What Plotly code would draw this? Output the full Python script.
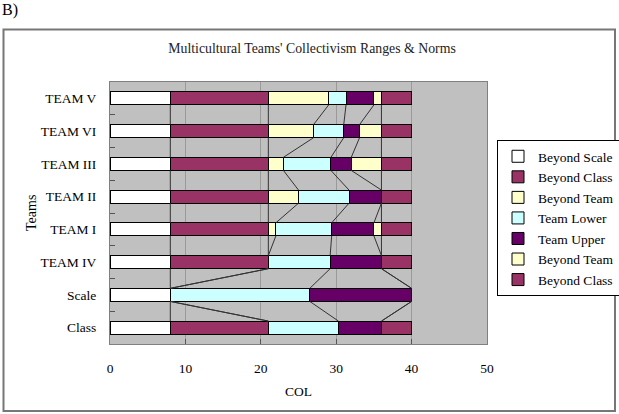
import plotly.graph_objects as go

# ---------------- data ----------------
categories = ["Class", "Scale", "TEAM IV", "TEAM I", "TEAM II", "TEAM III", "TEAM VI", "TEAM V"]
series_names = ["Beyond Scale", "Beyond Class", "Beyond Team", "Team Lower",
                "Team Upper", "Beyond Team", "Beyond Class"]
beyond_scale  = [8, 8, 8, 8, 8, 8, 8, 8]
beyond_class1 = [13, 0, 13, 13, 13, 13, 13, 13]
beyond_team1  = [0, 0, 0, 1, 4, 2, 6, 8]
team_lower    = [9.3, 18.5, 8.2, 7.4, 6.7, 6.3, 4, 2.3]
team_upper    = [5.7, 13.5, 6.8, 5.6, 4.3, 2.7, 2.1, 3.7]
beyond_team2  = [0, 0, 0, 1, 0, 4, 2.9, 1]
beyond_class2 = [4, 0, 4, 4, 4, 4, 4, 4]
x_ticks = [0, 10, 20, 30, 40, 50]

series_values = [beyond_scale, beyond_class1, beyond_team1, team_lower,
                 team_upper, beyond_team2, beyond_class2]
colors = ["#FFFFFF", "#993366", "#FFFFCC", "#CCFFFF", "#660066", "#FFFFCC", "#993366"]

FONT = "Liberation Serif"
W, H = 619, 414
L, R, T, B = 110, 619 - 487, 82, 414 - 344
PW, PH = W - L - R, H - T - B


def xp(px):
    return (px - L) / PW


def yp(py):
    return (H - B - py) / PH


fig = go.Figure()
bar_w = 0.4
for name, vals, col in zip(series_names, series_values, colors):
    fig.add_trace(go.Bar(
        y=categories, x=vals, name=name, orientation="h", width=bar_w,
        marker=dict(color=col, line=dict(color="black", width=1)),
    ))

# series (connector) lines between adjacent bars, computed from cumulative sums
cum = []
for i in range(len(categories)):
    s, row = 0, []
    for vals in series_values:
        s += vals[i]
        row.append(s)
    cum.append(row)

lx, ly = [], []
for i in range(len(categories) - 1):
    for k in range(len(series_values) - 1):
        lx += [cum[i][k], cum[i + 1][k], None]
        ly += [i + bar_w / 2, i + 1 - bar_w / 2, None]
fig.add_trace(go.Scatter(x=lx, y=ly, mode="lines", yaxis="y2",
                         line=dict(color="#333333", width=1),
                         showlegend=False, hoverinfo="skip"))

fig.update_layout(
    width=W, height=H,
    margin=dict(l=L, r=R, t=T, b=B, pad=0, autoexpand=False),
    barmode="stack",
    paper_bgcolor="white",
    plot_bgcolor="#C0C0C0",
    font=dict(family=FONT, size=13, color="black"),
    showlegend=True,
    legend=dict(
        x=xp(497), y=yp(140), xanchor="left", yanchor="top",
        bgcolor="white", bordercolor="black", borderwidth=1,
        font=dict(family=FONT, size=13.5, color="black"),
        traceorder="normal",
    ),
    xaxis=dict(
        range=[0, 50], tickvals=x_ticks, ticks="inside", ticklen=5,
        tickcolor="#555555", showgrid=True, gridcolor="#9a9a9a", gridwidth=1,
        zeroline=False, showline=True, linecolor="#808080", mirror=True,
        ticklabelstandoff=12, tickfont=dict(family=FONT, size=13.5),
    ),
    yaxis=dict(
        type="category", categoryorder="array", categoryarray=categories,
        range=[-0.5, len(categories) - 0.5], tickson="boundaries",
        ticks="inside", ticklen=5, tickcolor="#555555",
        showgrid=False, showline=True, linecolor="#808080", mirror=True,
        ticklabelstandoff=10, tickfont=dict(family=FONT, size=13.5),
    ),
    yaxis2=dict(overlaying="y", range=[-0.5, len(categories) - 0.5],
                visible=False),
    title=dict(text="Multicultural Teams' Collectivism Ranges & Norms",
               x=312 / W, y=1 - 48 / H, xanchor="center", yanchor="middle",
               xref="container", yref="container",
               font=dict(family=FONT, size=13.8, color="#222222")),
    annotations=[
        dict(text="COL", x=xp(298), y=yp(391), xref="paper", yref="paper",
             showarrow=False, xanchor="center", yanchor="middle",
             font=dict(family=FONT, size=13.5)),
        dict(text="Teams", x=xp(31), y=yp(213), xref="paper", yref="paper",
             showarrow=False, xanchor="center", yanchor="middle", textangle=-90,
             font=dict(family=FONT, size=14)),
        dict(text="B)", x=xp(0), y=yp(10), xref="paper", yref="paper",
             showarrow=False, xanchor="left", yanchor="middle",
             font=dict(family=FONT, size=16)),
    ],
    shapes=[
        dict(type="rect", xref="paper", yref="paper",
             x0=xp(3.5), x1=xp(615), y0=yp(29.5), y1=yp(411),
             line=dict(color="#777777", width=2), fillcolor="rgba(0,0,0,0)",
             layer="below"),
    ],
)

fig.write_html("out.html")
